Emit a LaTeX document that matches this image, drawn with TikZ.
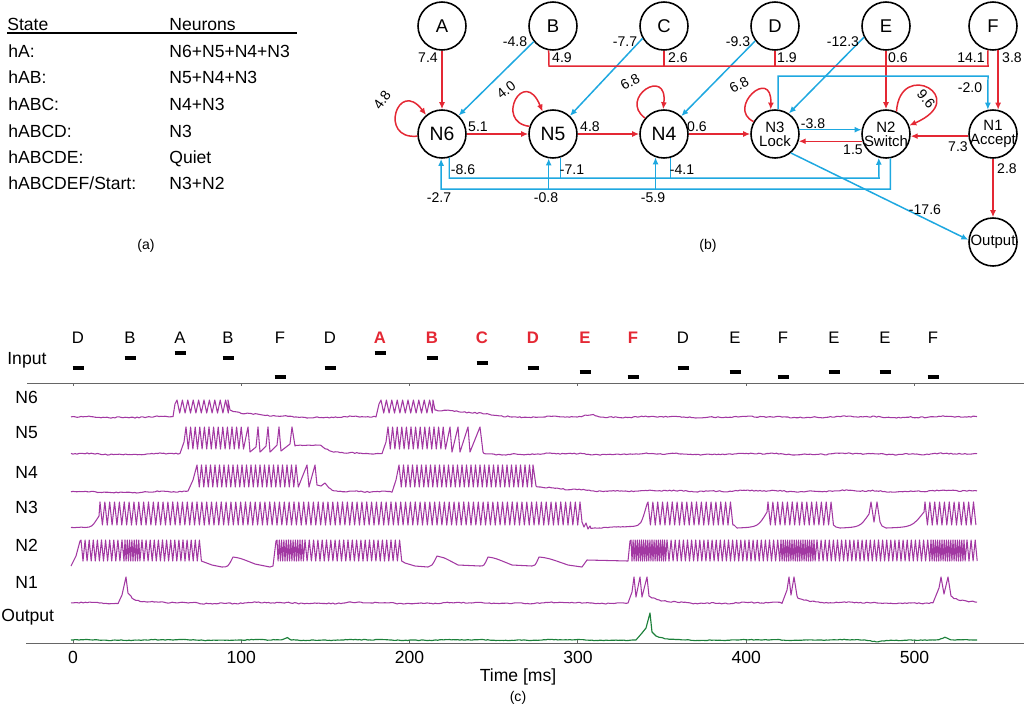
\documentclass[tikz,border=0pt]{standalone}
\usepackage{fontspec}
\setmainfont{Liberation Sans}
\usetikzlibrary{arrows.meta,calc}
\definecolor{cred}{RGB}{228,40,52}
\definecolor{cblue}{RGB}{30,168,224}
\definecolor{cpurp}{RGB}{162,56,162}
\definecolor{cgreen}{RGB}{28,128,58}
\begin{document}
\pgfmathsetseed{7}
\begin{tikzpicture}[x=0.02cm,y=-0.02cm,
  declare function={nz(\t)=0.55*rand+0.5*sin(3.7*\t)+0.3*sin(11*\t);},
  neuron/.style={circle,draw,line width=0.9pt,minimum size=0.96cm,inner sep=0pt},
  ltr/.style={font=\fontsize{10.5}{12}\selectfont,inner sep=0pt},
  nbig/.style={font=\fontsize{11}{12}\selectfont,inner sep=0pt},
  ntwo/.style={font=\fontsize{8.5}{7.8}\selectfont,align=center,inner sep=0pt},
  wl/.style={font=\fontsize{8}{9}\selectfont,inner sep=0pt},
  tab/.style={font=\fontsize{10}{12}\selectfont,inner sep=0pt,anchor=base west},
  rd/.style={cred,line width=0.85pt},
  bl/.style={cblue,line width=0.85pt},
  arr/.style={-{Latex[length=4pt,width=3.4pt]}},
  tr/.style={cpurp,line width=0.6pt,line join=round},
  gtr/.style={cgreen,line width=0.65pt,line join=round},
  rowlab/.style={font=\fontsize{10}{12}\selectfont,inner sep=0pt,anchor=west},
  inl/.style={font=\fontsize{9.5}{11}\selectfont,inner sep=0pt},
  inr/.style={font=\fontsize{9.5}{11}\selectfont\bfseries,text=cred,inner sep=0pt},
  bar/.style={line width=1.9pt},
  plab/.style={font=\fontsize{8}{9}\selectfont,inner sep=0pt},
  axis/.style={black!60,line width=0.5pt},
]
\useasboundingbox (0,0) rectangle (1024,708);

% ---------------- (a) table
\node[tab] (hs) at (7,30) {State};
\node[tab] (hn) at (169,30) {Neurons};
\draw[line width=0.6pt] (7,33) -- (297,33);
\node[tab] (r1) at (8,57) {hA:};            \node[tab] (s1) at (169,57) {N6+N5+N4+N3};
\node[tab] (r2) at (8,83) {hAB:};           \node[tab] (s2) at (169,83) {N5+N4+N3};
\node[tab] (r3) at (8,110) {hABC:};         \node[tab] (s3) at (169,110) {N4+N3};
\node[tab] (r4) at (8,137) {hABCD:};        \node[tab] (s4) at (169,137) {N3};
\node[tab] (r5) at (8,163) {hABCDE:};       \node[tab] (s5) at (169,163) {Quiet};
\node[tab] (r6) at (8,189) {hABCDEF/Start:};\node[tab] (s6) at (169,189) {N3+N2};
\node[plab] (pa) at (146,246) {(a)};

% ---------------- (b) network
\node[neuron] (A) at (442,26) {}; \node[ltr] (At) at (A) {A};
\node[neuron] (B) at (553,26) {}; \node[ltr] (Bt) at (B) {B};
\node[neuron] (C) at (664,26) {}; \node[ltr] (Ct) at (C) {C};
\node[neuron] (D) at (775,26) {}; \node[ltr] (Dt) at (D) {D};
\node[neuron] (E) at (886,26) {}; \node[ltr] (Et) at (E) {E};
\node[neuron] (F) at (993,26) {}; \node[ltr] (Ft) at (F) {F};
\node[neuron] (N6) at (442,134) {}; \node[nbig] (N6t) at (N6) {N6};
\node[neuron] (N5) at (553,134) {}; \node[nbig] (N5t) at (N5) {N5};
\node[neuron] (N4) at (664,134) {}; \node[nbig] (N4t) at (N4) {N4};
\node[neuron] (N3) at (775,134) {}; \node[ntwo] (N3t) at (N3) {N3\\Lock};
\node[neuron] (N2) at (886,134) {}; \node[ntwo] (N2t) at (N2) {N2\\Switch};
\node[neuron] (N1) at (993,134) {}; \node[ntwo] (N1t) at (N1) {N1\\Accept};
\node[neuron] (Out) at (993,242) {}; \node[ntwo] (Outt) at (Out) {Output};
\node[plab] (pb) at (708,246) {(b)};

% inputs
\draw[rd,arr] (A) -- (N6);          \node[wl] (w1) at (428,58) {7.4};
\draw[bl,arr] (B.219) -- (N6.48);   \node[wl] (w2) at (515,42) {-4.8};
\draw[bl,arr] (C.210) -- (N5.47);   \node[wl] (w3) at (625,42) {-7.7};
\draw[bl,arr] (D.217) -- (N4.46);   \node[wl] (w4) at (738,42) {-9.3};
\draw[bl,arr] (E.207) -- (N3.56);   \node[wl] (w5) at (843,42) {-12.3};
\coordinate (busL) at (549,66);
\coordinate (busR) at (988,66);
\draw[rd] (B.260) -- (busL) -- (busR) -- (F.258);
\draw[rd] (C.south) -- (C.south |- busL);
\draw[rd] (D.south) -- (D.south |- busL);
\node[wl] (w6) at (562,58) {4.9};
\node[wl] (w7) at (678,58) {2.6};
\node[wl] (w8) at (787,58) {1.9};
\node[wl] (w9) at (971,58) {14.1};
\draw[rd,arr] (E) -- (N2);          \node[wl] (w10) at (898,58) {0.6};
\draw[rd,arr] (F.282) -- (N1.78);   \node[wl] (w11) at (1012,58) {3.8};
\coordinate (topb) at (988,76);
\draw[bl,arr] (N3.83) |- (topb) -- (N1.102); \node[wl] (w12) at (970,88) {-2.0};

% self loops
\draw[rd,arr] (N6.185) .. controls (378,140) and (398,78) .. (N6.130);
\node[wl,rotate=55] (l1) at (382,100) {4.8};
\draw[rd,arr] (N5.162) .. controls (494,122) and (524,66) .. (N5.115);
\node[wl,rotate=38] (l2) at (506,90) {4.0};
\draw[rd,arr] (N4.140) .. controls (618,98) and (668,66) .. (N4.92);
\node[wl,rotate=29] (l3) at (630,82) {6.8};
\draw[rd,arr] (N3.150) .. controls (726,108) and (772,66) .. (N3.100);
\node[wl,rotate=29] (l4) at (739,85) {6.8};
\draw[rd,arr] (N2.65) .. controls (900,58) and (972,98) .. (N2.20);
\node[wl,rotate=-50] (l5) at (926,99) {9.6};

% chain
\draw[rd,arr] (N6) -- (N5);          \node[wl] (w13) at (478,127) {5.1};
\draw[rd,arr] (N5) -- (N4);          \node[wl] (w14) at (590,127) {4.8};
\draw[rd,arr] (N4) -- (N3);          \node[wl] (w15) at (697,127) {0.6};
\draw[bl,arr] (N3.10) -- (N2.170);   \node[wl] (w16) at (813,124) {-3.8};
\draw[rd,arr] (N2.197) -- (N3.343);  \node[wl] (w17) at (853,150) {1.5};
\draw[rd,arr] (N1.185) -- (N2.355);  \node[wl] (w18) at (958,147) {7.3};
\draw[rd,arr] (N1) -- (Out);         \node[wl] (w19) at (1007,169) {2.8};
\draw[bl,arr] (N3.-50) -- (Out.175); \node[wl] (w20) at (925,210) {-17.6};

% bottom buses
\coordinate (bu) at (879,178);
\draw[bl,arr] (N6.-73) |- (bu) -- (N2.-107);
\draw[bl] (N5.-73) -- (N5.-73 |- bu);
\draw[bl] (N4.-75) -- (N4.-75 |- bu);
\node[wl] (w21) at (463,170) {-8.6};
\node[wl] (w22) at (572,170) {-7.1};
\node[wl] (w23) at (682,170) {-4.1};
\coordinate (bd) at (441,189);
\draw[bl,arr] (N2.-80) |- (bd) -- (N6.-92);
\draw[bl,arr] (N5.-100 |- bd) -- (N5.-100);
\draw[bl,arr] (N4.-110 |- bd) -- (N4.-110);
\node[wl] (w24) at (439,198) {-2.7};
\node[wl] (w25) at (546,198) {-0.8};
\node[wl] (w26) at (653,198) {-5.9};

% ---------------- (c) traces
\node[rowlab] (lin) at (7,360) {Input};
\node[rowlab] (l6) at (15,397) {N6};
\node[rowlab] (l5r) at (15,433) {N5};
\node[rowlab] (l4r) at (15,472) {N4};
\node[rowlab] (l3r) at (15,507) {N3};
\node[rowlab] (l2r) at (15,545) {N2};
\node[rowlab] (l1r) at (15,582) {N1};
\node[rowlab] (lout) at (1,617) {Output};

\foreach \xx/\ll/\yy [count=\k] in {78/D/368,130/B/358,180/A/353,228/B/358,280/F/377,330/D/368,683/D/368,735/E/372,783/F/377,834/E/372,885/E/372,933/F/377}{
  \node[inl] (ib\k) at (\xx,338) {\ll};
  \draw[bar] (\xx-5.5,\yy) -- (\xx+5.5,\yy);
}
\foreach \xx/\ll/\yy [count=\k] in {380/A/353,432/B/358,482/C/363,533/D/368,585/E/372,633/F/377}{
  \node[inr] (ir\k) at (\xx,338) {\ll};
  \draw[bar] (\xx-5.5,\yy) -- (\xx+5.5,\yy);
}

% axes
\draw[axis] (27,383) -- (1024,383);
\draw[axis] (26,643) -- (1024,643);
\foreach \t [count=\k] in {0,100,200,300,400,500}{
  \draw[axis] ({73+1.683*\t},383) -- ({73+1.683*\t},386);
  \draw[axis] ({73+1.683*\t},643) -- ({73+1.683*\t},640);
  \node[rowlab,anchor=center] (tk\k) at ({73+1.683*\t},657) {\t};
}
\node[rowlab,anchor=center] (tx) at (518,677) {Time [ms]};
\node[plab] (pc) at (518,698) {(c)};

% N6
\draw[tr] plot[domain=71:173,samples=52] (\x,{417+nz(\x)})
  -- (175,404)
  \foreach \i in {0,...,9} { -- ({177+\i*5.4},400) -- ({179.7+\i*5.4},413) }
  -- (228,400) -- (230,410)
  -- plot[domain=231:300,samples=35] (\x,{417-7*exp(max(-9,-(\x-230)/22))+nz(\x)})
  -- plot[domain=301:376,samples=38] (\x,{417+nz(\x)})
  -- (379,404)
  \foreach \i in {0,...,9} { -- ({381+\i*5.4},400) -- ({383.7+\i*5.4},413) }
  -- (433,400) -- (435,410)
  -- plot[domain=436:520,samples=42] (\x,{410+7*(\x-436)/84+nz(\x)})
  -- plot[domain=521:977,samples=228] (\x,{417+nz(\x)-3*max(0,1-abs(\x-592)/12)});

% N5
\draw[tr] plot[domain=71:180,samples=55] (\x,{454+nz(\x)})
  -- (184,442)
  \foreach \i in {0,...,12} { -- ({186+\i*4.6},427) -- ({188.3+\i*4.6},449) }
  -- (248,427) -- (250,452) -- (256,447) -- (258,427) -- (260,452) -- (266,446) -- (268,427) -- (270,452)
  -- (277,445) -- (279,427) -- (281,451) -- (290,444) -- (292,427) -- (295,446)
  -- plot[domain=296:320,samples=12] (\x,{445+0.5*nz(\x)})
  -- plot[domain=321:382,samples=30] (\x,{454-9*exp(max(-9,-(\x-320)/12))+nz(\x)})
  -- (386,442)
  \foreach \i in {0,...,12} { -- ({388+\i*4.6},427) -- ({390.3+\i*4.6},449) }
  -- (450,427) -- (452,452) -- (458,427) -- (460,452) -- (468,427) -- (470,452) -- (480,427) -- (483,452)
  -- plot[domain=484:977,samples=247] (\x,{454+nz(\x)});

% N4
\draw[tr] plot[domain=71:188,samples=58] (\x,{492+nz(\x)})
  -- (193,480)
  \foreach \i in {0,...,22} { -- ({197+\i*4.5},465) -- ({199.3+\i*4.5},487) }
  -- (307,465) -- (309,487) -- (315,465) -- (317,485) -- (321,486) -- (325,483) -- (329,488)
  -- plot[domain=330:392,samples=31] (\x,{492-4*exp(max(-9,-(\x-330)/6))+nz(\x)})
  -- (396,480)
  \foreach \i in {0,...,29} { -- ({399+\i*4.5},465) -- ({401.3+\i*4.5},487) }
  -- (533,465) -- (536,486)
  -- plot[domain=537:977,samples=220] (\x,{491-4*exp(max(-9,-(\x-537)/30))+nz(\x)});

% N3
\draw[tr] plot[domain=71:85,samples=8] (\x,{528+nz(\x)})
  .. controls (92,527) .. (99,516)
  \foreach \i in {0,...,98} { -- ({100+\i*4.85},502) -- ({102.4+\i*4.85},525) }
  -- (580,502) -- (582,522) -- (584,527) -- (586,523) -- (588,529) -- (590,526)
  -- plot[domain=591:633,samples=21] (\x,{528-2*(\x-591)/42+0.6*nz(\x)})
  .. controls (641,525) .. (647,504)
  \foreach \i in {0,...,17} { -- ({648+\i*4.85},502) -- ({650.4+\i*4.85},525) }
  -- (734,525) -- (737,528) .. controls (758,527) .. (767,512)
  \foreach \i in {0,...,13} { -- ({768+\i*4.85},502) -- ({770.4+\i*4.85},525) }
  -- (836,527) -- (840,528) .. controls (860,527) .. (869,514)
  -- (871,502) -- (874,522) -- (877,502) -- (880,522) -- (882,526) -- (886,528)
  .. controls (912,527) .. (924,512)
  \foreach \i in {0,...,10} { -- ({925+\i*4.85},502) -- ({927.4+\i*4.85},525) };

% N2
\draw[tr] (71,566) -- (76,556) -- (80,541)
  \foreach \i in {0,...,10} { -- ({81+\i*4.1},540) -- ({83+\i*4.1},561) }
  \foreach \i in {0,...,6} { -- ({125+\i*2.3},540) -- ({126.1+\i*2.3},561) }
  \foreach \i in {0,...,14} { -- ({142+\i*4.1},540) -- ({144+\i*4.1},561) }
  -- (204,562) -- (212,565) -- (222,567) .. controls (228,567) .. (233,557)
  .. controls (240,558) .. (255,564) -- (270,567) -- (273,566) -- (276,541)
  \foreach \i in {0,...,11} { -- ({277+\i*2.3},540) -- ({278.1+\i*2.3},561) }
  \foreach \i in {0,...,22} { -- ({305+\i*4.3},540) -- ({307.1+\i*4.3},561) }
  -- (405,563) -- (415,566) -- (428,567) .. controls (432,566) .. (437,556)
  .. controls (443,557) .. (458,565) -- (480,566) .. controls (484,566) .. (488,557)
  .. controls (495,558) .. (512,565) -- (532,566) .. controls (535,566) .. (539,557)
  .. controls (548,558) .. (568,565) -- (582,567) -- (587,560) -- (628,561) -- (630,541)
  \foreach \i in {0,...,16} { -- ({631+\i*2.1},540) -- ({632+\i*2.1},561) }
  \foreach \i in {0,...,27} { -- ({667+\i*4.1},540) -- ({669+\i*4.1},561) }
  \foreach \i in {0,...,15} { -- ({781+\i*2.2},540) -- ({782.1+\i*2.2},561) }
  \foreach \i in {0,...,27} { -- ({817+\i*4.1},540) -- ({819+\i*4.1},561) }
  \foreach \i in {0,...,15} { -- ({931+\i*2.2},540) -- ({932.1+\i*2.2},561) }
  \foreach \i in {0,...,2} { -- ({967+\i*4.1},540) -- ({969+\i*4.1},561) };

% N1
\draw[tr] plot[domain=71:118,samples=24] (\x,{603+nz(\x)})
  -- (122,595) -- (126,577) -- (128,593) -- (131,596)
  -- plot[domain=132:628,samples=248] (\x,{603-6*exp(max(-9,-(\x-131)/10))+nz(\x)})
  -- (632,592) -- (634,577) -- (636,597) -- (640,577) -- (642,597) -- (647,577) -- (649,596) -- (652,598)
  -- plot[domain=653:782,samples=65] (\x,{603-5*exp(max(-9,-(\x-652)/12))+nz(\x)})
  -- (787,590) -- (789,577) -- (791,595) -- (794,577) -- (797,596)
  -- plot[domain=798:933,samples=68] (\x,{603-6*exp(max(-9,-(\x-797)/12))+nz(\x)})
  -- (939,588) -- (941,577) -- (944,594) -- (948,577) -- (951,596)
  -- plot[domain=952:977,samples=13] (\x,{603-6*exp(max(-9,-(\x-951)/12))+nz(\x)});

% Output
\draw[gtr] plot[domain=71:636,samples=283] (\x,{640+0.6*nz(\x)-2.5*max(0,1-abs(\x-287)/4)})
  -- (642,633) -- (646,628) -- (650,613) -- (652,632) -- (656,636)
  -- plot[domain=657:977,samples=160] (\x,{640+0.6*nz(\x)-4*exp(max(-9,-(\x-656)/8))+2*max(0,1-abs(\x-876)/12)-2.5*max(0,1-abs(\x-945)/6)});

\end{tikzpicture}
\end{document}
